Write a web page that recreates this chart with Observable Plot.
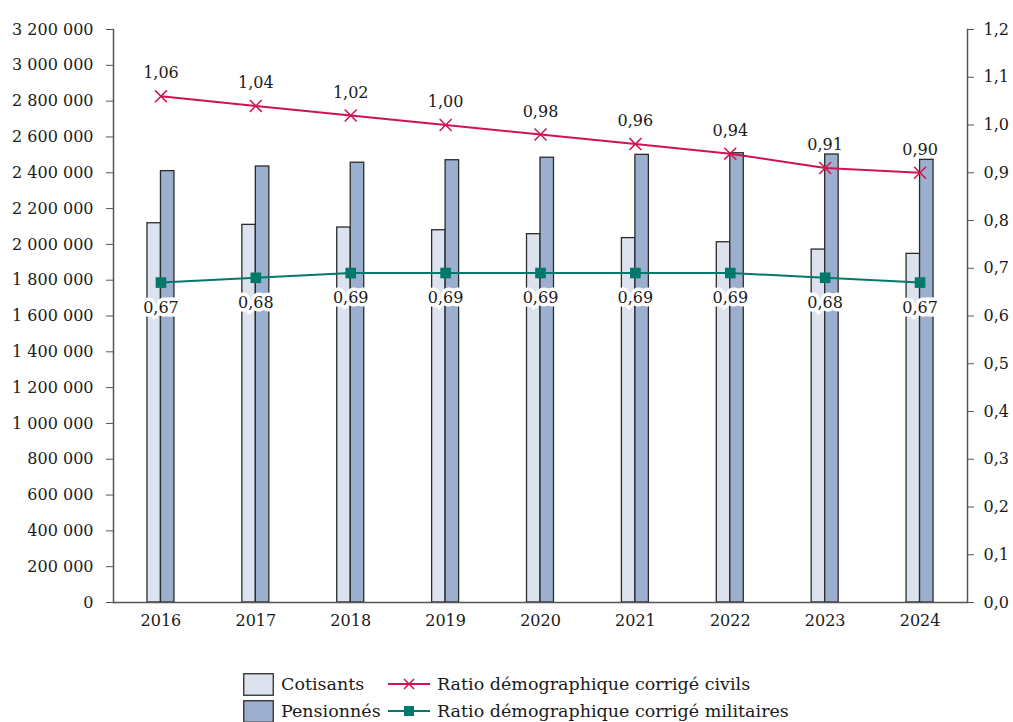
<!DOCTYPE html>
<html><head><meta charset="utf-8">
<script src="https://cdn.jsdelivr.net/npm/d3@7"></script>
<script src="https://cdn.jsdelivr.net/npm/@observablehq/plot@0.6"></script>
<style>
body{margin:0;background:#fff;font-family:"DejaVu Serif",serif;color:#1a1a1a;}
#legend{position:relative;height:72px;width:1013px;}
.item{position:absolute;display:flex;align-items:center;font-size:17.5px;white-space:nowrap;height:22px;}
.item svg{margin-right:7px;flex:none;}
</style></head><body>
<div id="chart"></div>
<div id="legend"></div>
<script>
const years = [2016, 2017, 2018, 2019, 2020, 2021, 2022, 2023, 2024];
const cotisants = [2118000, 2109000, 2094000, 2079000, 2057000, 2035000, 2012000, 1971000, 1947000];
const pensionnes = [2409000, 2435000, 2456000, 2470000, 2484000, 2500000, 2509000, 2502000, 2472000];
const ratioCivils = [1.06, 1.04, 1.02, 1.00, 0.98, 0.96, 0.94, 0.91, 0.90];
const ratioMilitaires = [0.67, 0.68, 0.69, 0.69, 0.69, 0.69, 0.69, 0.68, 0.67];
const leftTicks = d3.range(0, 3200001, 200000);
const rightTicks = d3.range(0, 13).map(i => i / 10);
const seriesNames = ["Cotisants", "Pensionnés", "Ratio démographique corrigé civils", "Ratio démographique corrigé militaires"];

const C_COT = "#dde3ee", C_PENS = "#9dafcf", C_CIV = "#d0134f", C_MIL = "#00796b";
const K = 3200000 / 1.2;
const rows = years.map((y, i) => ({year: String(y), cot: cotisants[i], pens: pensionnes[i], civ: ratioCivils[i], mil: ratioMilitaires[i]}));
const fmtInt = d => d3.format(",")(d).replace(/,/g, " ");
const fmtDec = (v, n) => v.toFixed(n).replace(".", ",");

const chart = Plot.plot({
  width: 1013, height: 650,
  marginTop: 29, marginBottom: 48, marginLeft: 113, marginRight: 46,
  style: {fontFamily: "DejaVu Serif", fontSize: "16px", color: "#1a1a1a", background: "#fff"},
  x: {domain: years.map(String), paddingInner: 0.858, paddingOuter: 0.429, round: false},
  y: {domain: [0, 3200000]},
  marks: [
    Plot.barY(rows, {x: "year", y: "cot", fill: C_COT, stroke: "#2b2b2b", strokeWidth: 1.3, dx: -6.75}),
    Plot.barY(rows, {x: "year", y: "pens", fill: C_PENS, stroke: "#2b2b2b", strokeWidth: 1.3, dx: 6.75}),
    Plot.ruleY([0], {stroke: "#555", strokeWidth: 1.5}),
    Plot.frame({anchor: "left", stroke: "#555", strokeWidth: 1.5}),
    Plot.frame({anchor: "right", stroke: "#555", strokeWidth: 1.5}),
    Plot.line(rows, {x: "year", y: d => d.civ * K, stroke: C_CIV, strokeWidth: 2}),
    Plot.dot(rows, {x: "year", y: d => d.civ * K, symbol: "times", r: 5.5, stroke: C_CIV, strokeWidth: 1.5}),
    Plot.text(rows, {x: "year", y: d => d.civ * K, text: d => fmtDec(d.civ, 2), dy: -23, fontSize: 16, fill: "#1a1a1a"}),
    Plot.line(rows, {x: "year", y: d => d.mil * K, stroke: C_MIL, strokeWidth: 2}),
    Plot.dot(rows, {x: "year", y: d => d.mil * K, symbol: "square", r: 6, fill: C_MIL}),
    Plot.text(rows, {x: "year", y: d => d.mil * K, text: d => fmtDec(d.mil, 2), dy: 25, fontSize: 16, fill: "#1a1a1a", stroke: "white", strokeWidth: 7, strokeLinejoin: "miter"}),
    Plot.axisY({anchor: "left", ticks: leftTicks, tickFormat: fmtInt, tickSize: 7, tickPadding: 13, label: null, stroke: "#555"}),
    Plot.axisY({anchor: "right", ticks: rightTicks.map(v => v * K), tickFormat: d => fmtDec(d / K, 1), tickSize: 6, tickPadding: 10, label: null, stroke: "#555"}),
    Plot.axisX({tickSize: 0, tickPadding: 12, label: null})
  ]
});
document.getElementById("chart").appendChild(chart);

// Legend
const legend = document.getElementById("legend");
function addItem(left, top, swatch, label) {
  const div = document.createElement("div");
  div.className = "item";
  div.style.left = left + "px";
  div.style.top = top + "px";
  div.innerHTML = swatch + "<span>" + label + "</span>";
  legend.appendChild(div);
}
const sq = c => `<svg width="31" height="23"><rect x="0.75" y="0.75" width="29.5" height="21.5" fill="${c}" stroke="#2b2b2b" stroke-width="1.3"/></svg>`;
const ln = (c, mk) => `<svg width="42" height="22"><line x1="0" x2="42" y1="11" y2="11" stroke="${c}" stroke-width="2"/>${mk}</svg>`;
addItem(243, 23, sq(C_COT), seriesNames[0]);
addItem(243, 50, sq(C_PENS), seriesNames[1]);
addItem(388, 23, ln(C_CIV, `<path d="M16,6L26,16M26,6L16,16" stroke="${C_CIV}" stroke-width="1.5"/>`), seriesNames[2]);
addItem(388, 50, ln(C_MIL, `<rect x="16" y="6" width="10" height="10" fill="${C_MIL}"/>`), seriesNames[3]);
</script>
</body></html>
